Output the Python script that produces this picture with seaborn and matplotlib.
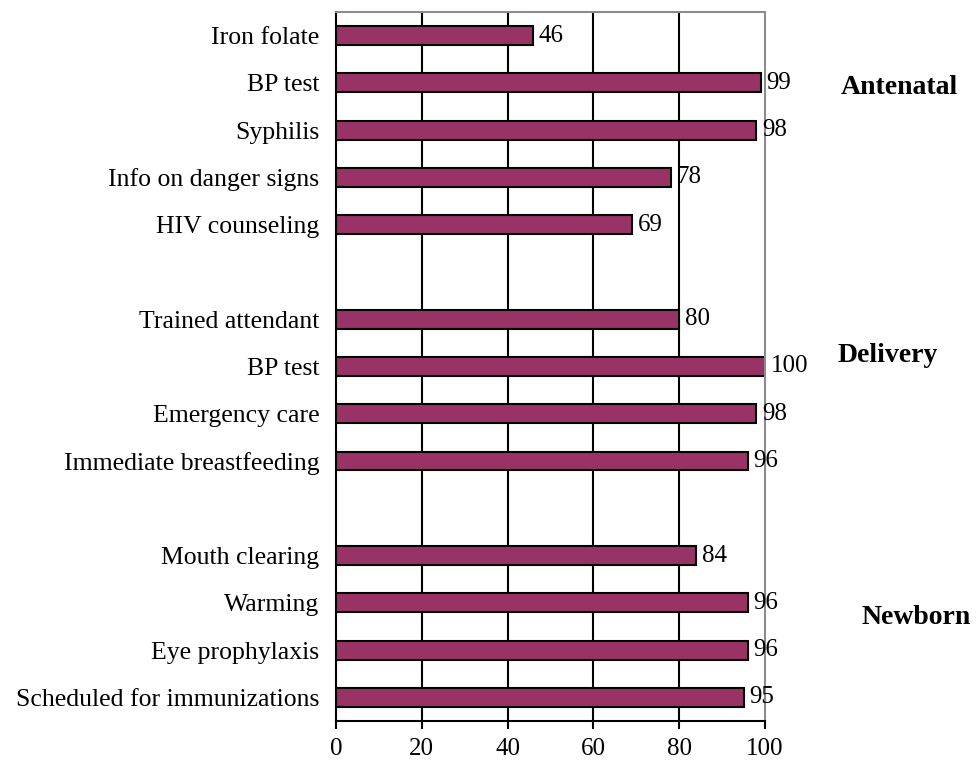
import numpy as np
import pandas as pd
import seaborn as sns
import matplotlib.pyplot as plt

# data
antenatal = ["Iron folate", "BP test", "Syphilis", "Info on danger signs", "HIV counseling"]
antenatal_vals = [46, 99, 98, 78, 69]
delivery = ["Trained attendant", "BP test", "Emergency care", "Immediate breastfeeding"]
delivery_vals = [80, 100, 98, 96]
newborn = ["Mouth clearing", "Warming", "Eye prophylaxis", "Scheduled for immunizations"]
newborn_vals = [84, 96, 96, 95]
groups = ["Antenatal", "Delivery", "Newborn"]

sns.set_style("white")
plt.rcParams['font.family'] = ['Liberation Serif', 'DejaVu Serif']
plt.rcParams['text.color'] = 'black'
plt.rcParams['xtick.color'] = 'black'
plt.rcParams['ytick.color'] = 'black'

# build the table: unique keys per row, blank slots between groups
rows = []
order = []
ticklabels = []
for g, names, vals in zip(groups, [antenatal, delivery, newborn],
                          [antenatal_vals, delivery_vals, newborn_vals]):
    if order:
        order.append(g + "_gap")
        ticklabels.append("")
    for n, v in zip(names, vals):
        key = g + "|" + n
        rows.append({"key": key, "value": v})
        order.append(key)
        ticklabels.append(n)
df = pd.DataFrame(rows)

fig = plt.figure(figsize=(9.78, 7.62), dpi=100)
ax = fig.add_axes([336 / 978, 1 - 721 / 762, (765 - 336) / 978, (721 - 12) / 762])

sns.barplot(data=df, x="value", y="key", order=order, orient="h",
            color="#993366", saturation=1, width=0.4,
            edgecolor="black", linewidth=1.5, ax=ax)
ax.bar_label(ax.containers[0], fmt="%d", padding=4, fontsize=18, color="black")

ax.set_xlim(0, 100)
ax.set_ylim(len(order) - 0.5, -0.5)
ax.set_xticks([0, 20, 40, 60, 80, 100])
ax.set_yticks(range(len(order)))
ax.set_yticklabels(ticklabels)
ax.set_xlabel("")
ax.set_ylabel("")
ax.tick_params(axis="y", length=0, labelsize=18.5, pad=12)
ax.tick_params(axis="x", length=6, width=1.5, direction="out", labelsize=18, pad=6,
               bottom=True)

for x in [20, 40, 60, 80]:
    ax.axvline(x, color="black", lw=1.5, zorder=0)
ax.spines["left"].set_color("black")
ax.spines["left"].set_linewidth(1.5)
ax.spines["bottom"].set_color("black")
ax.spines["bottom"].set_linewidth(1.5)
ax.spines["top"].set_color("#8c8c8c")
ax.spines["top"].set_linewidth(1.5)
ax.spines["right"].set_color("#8c8c8c")
ax.spines["right"].set_linewidth(1.5)

# group labels on the right
for g, (px, py) in zip(groups, [(899, 88), (888, 355), (916, 618)]):
    fig.text(px / 978, 1 - py / 762, g, ha="center", va="center",
             fontsize=20, fontweight="bold", color="black")

fig.savefig("out.png", dpi=100)
